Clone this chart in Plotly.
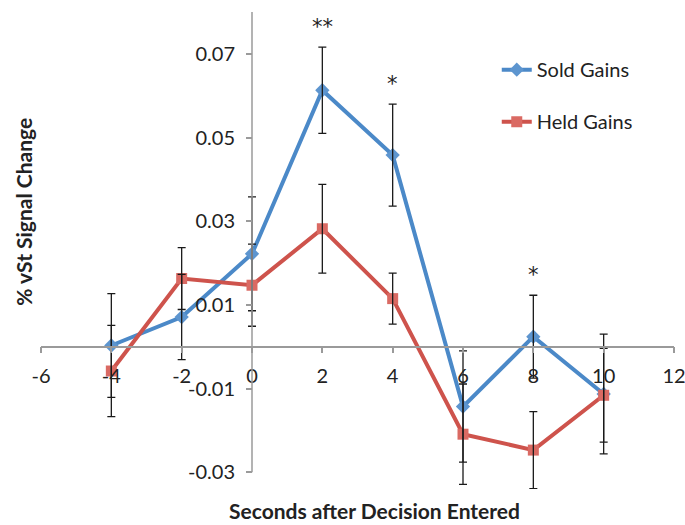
import plotly.graph_objects as go

# ---- data ----
seconds = [-4, -2, 0, 2, 4, 6, 8, 10]
sold_gains = [0.0003, 0.0071, 0.0222, 0.0613, 0.0458, -0.0143, 0.0024, -0.0113]
sold_err = [0.0124, 0.0102, 0.0136, 0.0103, 0.0122, 0.0133, 0.0099, 0.0143]
held_gains = [-0.0058, 0.0163, 0.0147, 0.0282, 0.0115, -0.0209, -0.0247, -0.0116]
held_err = [0.0109, 0.0074, 0.0098, 0.0106, 0.0061, 0.0120, 0.0092, 0.0112]
sig_x = [2, 4, 8]
sig_labels = ["**", "*", "*"]
x_ticks = [-6, -4, -2, 0, 2, 4, 6, 8, 10, 12]
x_tick_labels = ["-6", "-4", "-2", "0", "2", "4", "6", "8", "10", "12"]
y_ticks = [-0.03, -0.01, 0.01, 0.03, 0.05, 0.07]
y_tick_labels = ["-0.03", "-0.01", "0.01", "0.03", "0.05", "0.07"]

BLUE = "#4B89C8"
RED = "#CE534C"
FONT = "Lato"

x_range = [-6, 12]
y_range = [-0.034, 0.08]

fig = go.Figure()

fig.add_trace(go.Scatter(
    x=seconds, y=sold_gains, mode="lines+markers", name="Sold Gains",
    line=dict(color=BLUE, width=4),
    marker=dict(symbol="diamond", size=11, color="#5D95CF"),
    legendgroup="a",
))
fig.add_trace(go.Scatter(
    x=seconds, y=held_gains, mode="lines+markers", name="Held Gains",
    line=dict(color=RED, width=4),
    marker=dict(symbol="square", size=11, color="#DA6A63"),
    legendgroup="b",
))
# error bars on top
for vals, errs in ((sold_gains, sold_err), (held_gains, held_err)):
    fig.add_trace(go.Scatter(
        x=seconds, y=vals, mode="markers", showlegend=False, hoverinfo="skip",
        marker=dict(size=1, opacity=0),
        error_y=dict(type="data", array=errs, visible=True,
                     color="#1a1a1a", thickness=1.3, width=4),
    ))

# significance markers
sold_top = {s: v + e for s, v, e in zip(seconds, sold_gains, sold_err)}
for sx, lab in zip(sig_x, sig_labels):
    fig.add_annotation(x=sx, y=sold_top[sx] + 0.0015, text=lab, showarrow=False,
                       xref="x", yref="y", yanchor="bottom",
                       font=dict(family="DejaVu Sans", size=21, color="#222"))

# y axis line (from -0.03 to top)
fig.add_shape(type="line", xref="x", yref="y", x0=0, x1=0,
              y0=y_ticks[0], y1=y_range[1],
              line=dict(color="#9a9a9a", width=1.5))

fig.add_annotation(text="<b>Seconds after Decision Entered</b>", xref="paper", yref="paper",
                   x=0.527, y=-0.046, showarrow=False, yanchor="middle",
                   font=dict(family=FONT, size=21, color="#222"))
fig.add_annotation(text="<b>% vSt Signal Change</b>", xref="paper", yref="paper",
                   x=-0.027, y=0.581, showarrow=False, textangle=-90,
                   xanchor="center", yanchor="middle",
                   font=dict(family=FONT, size=21, color="#222"))

fig.update_layout(
    width=685, height=525,
    margin=dict(l=41, r=11, t=12, b=36, autoexpand=False),
    paper_bgcolor="white", plot_bgcolor="white",
    font=dict(family=FONT, size=20, color="#222"),
    showlegend=True,
    legend=dict(x=0.72, y=0.92, xanchor="left", yanchor="top",
                traceorder="grouped", tracegroupgap=23, itemwidth=30,
                font=dict(family=FONT, size=20, color="#222"),
                bgcolor="rgba(0,0,0,0)"),
    xaxis=dict(range=x_range, tickvals=x_ticks, ticktext=x_tick_labels,
               showgrid=False, zeroline=False, automargin=False,
               showline=True, linecolor="#9a9a9a", linewidth=1.5,
               ticks="outside", ticklen=6, tickcolor="#9a9a9a", tickwidth=1.5,
               ticklabelstandoff=6, ticklabeloverflow="allow",
               anchor="free", position=(0 - y_range[0]) / (y_range[1] - y_range[0])),
    yaxis=dict(range=y_range, tickvals=y_ticks, ticktext=y_tick_labels,
               showgrid=False, zeroline=False, showline=False, automargin=False,
               ticks="outside", ticklen=6, tickcolor="#9a9a9a", tickwidth=1.5,
               ticklabelstandoff=7, ticklabeloverflow="allow",
               anchor="free", position=(0 - x_range[0]) / (x_range[1] - x_range[0])),
)

fig.write_html(
    "out.html",
    config={"displayModeBar": False},
    post_script="document.body.style.margin='0';document.body.style.overflow='hidden';",
)
